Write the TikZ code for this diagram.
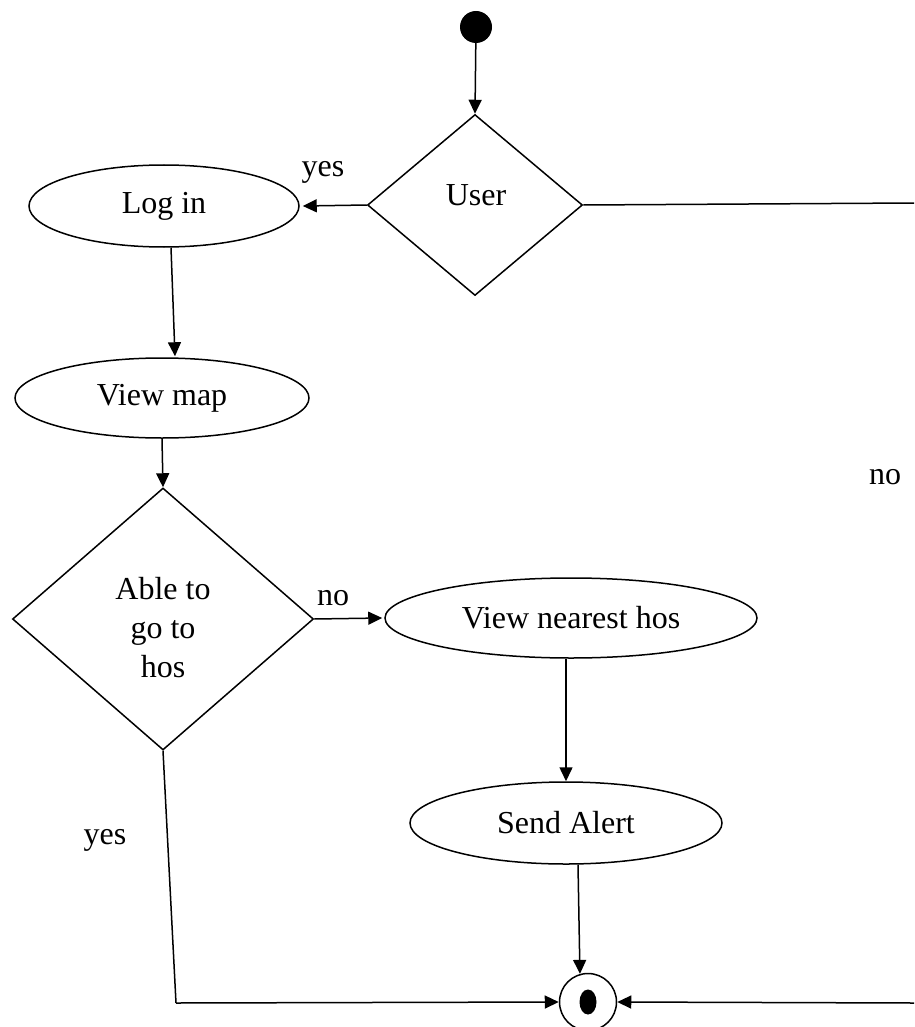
\documentclass[tikz,border=0pt]{standalone}
\usepackage{fontspec}
\setmainfont{Liberation Serif}
\usetikzlibrary{shapes.geometric,arrows.meta}
\begin{document}
\begin{tikzpicture}[x=1pt,y=-1pt,
  every node/.style={font=\fontsize{32}{39}\selectfont},
  line/.style={draw=black,line width=1.5pt},
  flow/.style={line,-{Triangle[length=14pt,width=13pt]}},
  act/.style={ellipse,draw=black,line width=1.5pt,inner sep=0pt},
  dec/.style={diamond,draw=black,line width=1.5pt,inner sep=0pt,align=center},
  lbl/.style={inner sep=0pt}]
\useasboundingbox (0,0) rectangle (914,1027);
% start
\node[circle,fill=black,minimum size=32pt,inner sep=0pt] (start) at (476,27) {};
% decisions
\node[dec,minimum width=215pt,minimum height=181pt] (user) at (475,205) {};
\node[lbl] (usert) at (476,195) {User};
\node[dec,minimum width=301pt,minimum height=262pt] (able) at (163,619) {};
\node[lbl,align=center] (ablet) at (163,628) {Able to\\go to\\hos};
% activities
\node[act,minimum width=270pt,minimum height=82pt] (login) at (164,206) {Log in};
\node[act,minimum width=294pt,minimum height=80pt] (map) at (162,398) {View map};
\node[act,minimum width=372pt,minimum height=80pt] (near) at (571,618) {View nearest hos};
\node[act,minimum width=312pt,minimum height=82pt] (alert) at (566,823) {Send Alert};
% end
\node[circle,draw=black,line width=1.5pt,minimum size=57pt,inner sep=0pt] (end) at (588,1002) {};
\fill[black] (end.center) ellipse (8.5pt and 12.5pt);
% coordinates
\coordinate (uR) at (914,203);
\coordinate (bR) at (914,1003);
\coordinate (bL) at (176,1003);
% labels
\node[lbl] (yes1) at (323,172) {yes};
\node[lbl] (no1) at (333,598) {no};
\node[lbl] (yes2) at (105,840) {yes};
\node[lbl] (no2) at (885,477) {no};
% connectors
\draw[flow] (start) -- (user.north);
\draw[flow] (user.west) -- ([xshift=3pt]login.east);
\draw[flow] ([xshift=7pt]login.south) -- ([xshift=13pt,yshift=1pt]map.north);
\draw[flow] (map.south) -- (able.north);
\draw[flow] (able.east) -- ([xshift=-2pt]near.west);
\draw[flow] ([xshift=-5pt]near.south) -- (alert.north);
\draw[flow] ([xshift=12pt]alert.south) -- (end.106);
\draw[line] (user.east) -- (uR);
\draw[flow] (bR) -- (end.east);
\draw[line] (able.south) -- (bL);
\draw[flow] (bL) -- (end.west);
\end{tikzpicture}
\end{document}
